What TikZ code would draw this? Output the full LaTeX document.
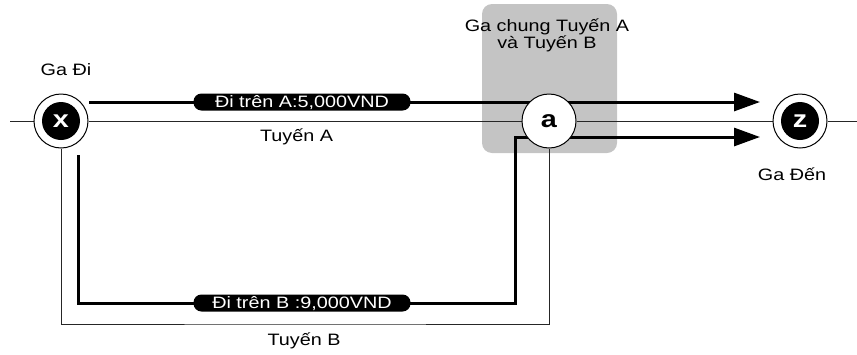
\documentclass[tikz,border=0pt]{standalone}
\usepackage{fontspec}
\setmainfont[FakeStretch=1.2]{Liberation Sans}
\usepackage{tikz}
\usetikzlibrary{arrows.meta, positioning, backgrounds}
\definecolor{xamnhat}{HTML}{C4C4C4}

\begin{document}
\begin{tikzpicture}[x=1pt, y=-1pt, >={Triangle[length=26pt, width=18pt]},
    chu/.style={font=\fontsize{16.5}{17}\selectfont},
    chuga/.style={font=\fontsize{24}{24}\selectfont\bfseries, text height=12.5pt, text depth=0pt},
    gavong/.style={circle, draw=black, line width=1pt, fill=white, minimum size=54pt, inner sep=0pt},
    galoi/.style={circle, fill=black, text=white, minimum size=38pt, inner sep=0pt, chuga},
    giave/.style={chu, fill=black, text=white, rounded corners=8pt, minimum width=217pt,
        minimum height=17pt, inner sep=0pt, text height=11.8pt, text depth=0pt},
    tuyen/.style={line width=1pt, black!85},
    duongdi/.style={line width=3pt}]
    \useasboundingbox (0,0) rectangle (857,354);

    % Các ga
    \node[gavong] (X) at (61,121) {};
    \node[galoi] (x) at (X) {x};
    \node[gavong, chuga] (a) at (549,121) {a};
    \node[gavong] (Z) at (800,121) {};
    \node[galoi] (z) at (Z) {z};

    % Nhãn
    \node[chu, anchor=base] (tenX) at (66,75) {Ga Đi};
    \node[chu, anchor=base] (tenZ) at (792,180) {Ga Đến};
    \node[chu, anchor=base] (tuyenA) at (296.5,141) {Tuyến A};
    \node[chu, anchor=base] (tuyenB) at (304,345) {Tuyến B};
    \node[chu, anchor=base, align=center] (tenchung) at (547,48) {Ga chung Tuyến A\\và Tuyến B};

    % Giá vé
    \node[giave] (giaA) at (302,102) {Đi trên A:5,000VND};
    \node[giave] (giaB) at (302,303) {Đi trên B :9,000VND};

    % Điểm gấp của đường đi
    \coordinate (trai) at (10,121);
    \coordinate (phai) at (857,121);
    \coordinate (A0) at (89,102);
    \coordinate (A1) at (760,102);
    \coordinate (B0) at (78,155);
    \coordinate (B1) at (515,303);
    \coordinate (B2) at (760,137);
    \coordinate (TB) at (305,324);

    \begin{pgfonlayer}{background}
        % Vùng ga chung
        \node[fill=xamnhat, rounded corners=10pt, minimum width=135pt, minimum height=149pt,
            inner sep=0pt] (chung) at (549.5,78.5) {};
        % Tuyến A, tuyến B
        \draw[tuyen] (trai) -- (X) -- (a) -- (Z) -- (phai);
        \draw[tuyen] (X) |- (TB) -| (a);
        % Đường đi
        \draw[duongdi, ->] (A0) -- (A1);
        \draw[duongdi, ->] (B0) |- (B1) |- (B2);
    \end{pgfonlayer}
\end{tikzpicture}
\end{document}
